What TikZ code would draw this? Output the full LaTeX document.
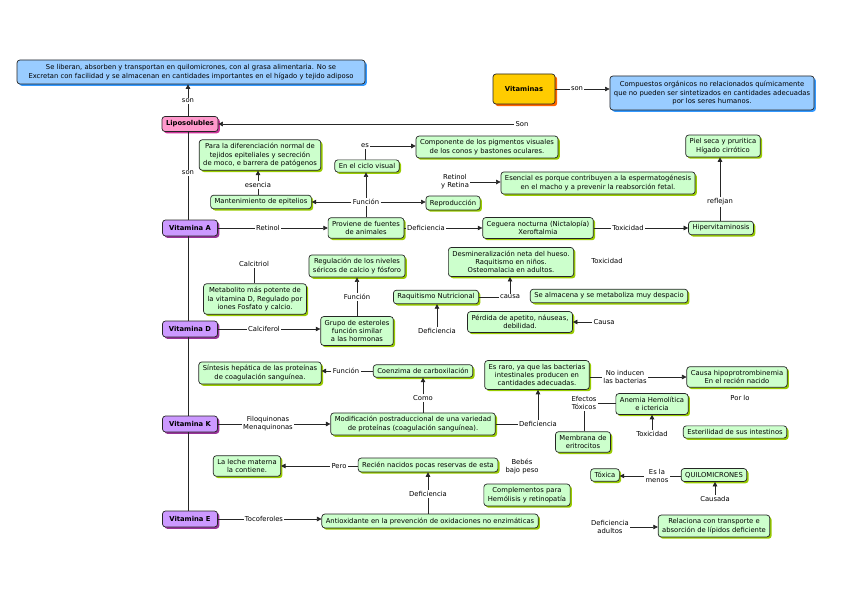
\documentclass[tikz,border=0pt]{standalone}
\usepackage{fontspec}
\setmainfont{DejaVu Sans}
\usetikzlibrary{shadows,arrows.meta}
\definecolor{cfill}{HTML}{CCFFCC}
\definecolor{cshad}{HTML}{99CC00}
\definecolor{pfill}{HTML}{CC99FF}
\definecolor{pshad}{HTML}{993399}
\definecolor{kfill}{HTML}{FF99CC}
\definecolor{kshad}{HTML}{CC3399}
\definecolor{bfill}{HTML}{99CCFF}
\definecolor{bshad}{HTML}{3399FF}
\definecolor{ofill}{HTML}{FFCC00}
\definecolor{oshad}{HTML}{FF6600}
\begin{document}
\begin{tikzpicture}[x=1pt,y=-1pt,
 box/.style={rounded corners=3pt, draw=black!85, line width=0.7pt, align=center, inner xsep=4pt, inner ysep=3.5pt, font=\fontsize{6.8}{8.3}\selectfont},
 concept/.style={box, fill=cfill, drop shadow={shadow xshift=1.8pt, shadow yshift=-1.8pt, fill=cshad, opacity=1}},
 vit/.style={box, fill=pfill, font=\fontsize{6.8}{8}\selectfont\bfseries, minimum width=55pt, minimum height=16pt, inner ysep=2pt, drop shadow={shadow xshift=1.8pt, shadow yshift=-1.8pt, fill=pshad, opacity=1}},
 lipo/.style={box, fill=kfill, font=\fontsize{6.8}{8}\selectfont\bfseries, minimum width=56pt, minimum height=15pt, inner ysep=2pt, drop shadow={shadow xshift=1.8pt, shadow yshift=-1.8pt, fill=kshad, opacity=1}},
 blue/.style={box, fill=bfill, drop shadow={shadow xshift=1.8pt, shadow yshift=-1.8pt, fill=bshad, opacity=1}},
 orange/.style={box, fill=ofill, font=\fontsize{6.8}{8}\selectfont\bfseries, minimum width=62pt, minimum height=30pt, drop shadow={shadow xshift=2.2pt, shadow yshift=-2.2pt, fill=oshad, opacity=1}},
 lbl/.style={font=\fontsize{6.8}{8}\selectfont, align=center, inner sep=1.2pt},
 link/.style={line width=0.6pt, draw=black!85},
 arr/.style={link, -{Triangle[length=4.5pt,width=4.5pt]}},
]
\useasboundingbox (0,0) rectangle (848,599);
\fill[white] (0,0) rectangle (848,599);

% top
\node[blue, minimum width=348pt, minimum height=24pt, inner ysep=2pt] (tb) at (191,72) {Se liberan, absorben y transportan en quilomicrones, con al grasa alimentaria. No se\\Excretan con facilidad y se almacenan en cantidades importantes en el hígado y tejido adiposo};
\node[orange] (vit) at (524,89) {Vitaminas};
\node[blue, minimum width=196pt, minimum height=34pt, inner ysep=2pt] (def) at (712,93) {Compuestos orgánicos no relacionados químicamente\\que no pueden ser sintetizados en cantidades adecuadas\\por los seres humanos.};
\node[lbl] (lson1) at (577,89) {son};
\node[lipo] (lipo) at (190,124) {Liposolubles};
\node[lbl] (lson2) at (188,101) {son};
\node[lbl] (lSon) at (522,124) {Son};
\node[lbl] (lson3) at (188,173) {son};

% Vitamina A
\node[vit] (vA) at (190,228) {Vitamina A};
\node[concept] (dif) at (260,155) {Para la diferenciación normal de\\tejidos epiteliales y secreción\\de moco, e barrera de patógenos};
\node[lbl] (lesen) at (258,185) {esencia};
\node[concept] (mant) at (261,202) {Mantenimiento de epitelios};
\node[lbl] (lret) at (268,228) {Retinol};
\node[concept] (prov) at (366,228) {Proviene de fuentes\\de animales};
\node[lbl] (lfunA) at (366,202) {Función};
\node[concept] (ciclo) at (367,166) {En el ciclo visual};
\node[lbl] (les) at (365,146) {es};
\node[concept] (comp) at (487,147) {Componente de los pigmentos visuales\\de los conos y bastones oculares.};
\node[concept] (repro) at (453,203) {Reproducción};
\node[lbl] (lrr) at (455,182) {Retinol\\y Retina};
\node[concept] (esen) at (598,183) {Esencial es porque contribuyen a la espermatogénesis\\en el macho y a prevenir la reabsorción fetal.};
\node[lbl] (ldefA) at (426,228) {Deficiencia};
\node[concept] (ceg) at (538,228) {Ceguera nocturna (Nictalopía)\\Xeroftalmia};
\node[lbl] (ltoxA) at (628,228) {Toxicidad};
\node[concept] (hiper) at (721,228) {Hipervitaminosis};
\node[lbl] (lrefl) at (720,202) {reflejan};
\node[concept] (piel) at (723,146) {Piel seca y pruritica\\Hígado cirrótico};

% Vitamina D
\node[vit] (vD) at (190,329) {Vitamina D};
\node[lbl] (lcalc) at (254,264) {Calcitriol};
\node[concept] (meta) at (255,299) {Metabolito más potente de\\la vitamina D, Regulado por\\iones Fosfato y calcio.};
\node[lbl] (lcalf) at (264,329) {Calciferol};
\node[concept] (grupo) at (357,331) {Grupo de esteroles\\función similar\\a las hormonas};
\node[lbl] (lfunD) at (357,297) {Función};
\node[concept] (regu) at (357,266) {Regulación de los niveles\\séricos de calcio y fósforo};
\node[concept] (raq) at (436,297) {Raquitismo Nutricional};
\node[lbl] (ldefD) at (437,331) {Deficiencia};
\node[lbl] (lcausa) at (510,297) {causa};
\node[concept] (desm) at (511,262) {Desmineralización neta del hueso.\\Raquitismo en niños.\\Osteomalacia en adultos.};
\node[concept] (alm) at (609,296) {Se almacena y se metaboliza muy despacio};
\node[lbl] (ltoxD) at (607,261) {Toxicidad};
\node[concept] (perd) at (520,322) {Pérdida de apetito, náuseas,\\debilidad.};
\node[lbl] (lCausa) at (604,322) {Causa};

% Vitamina K
\node[vit] (vK) at (190,424) {Vitamina K};
\node[lbl] (lfilo) at (268,424) {Filoquinonas\\Menaquinonas};
\node[concept] (modi) at (413,424) {Modificación postraduccional de una variedad\\de proteínas (coagulación sanguínea).};
\node[lbl] (lcomo) at (423,398) {Como};
\node[concept] (coen) at (423,371) {Coenzima de carboxilación};
\node[lbl] (lfunK) at (346,371) {Función};
\node[concept] (sint) at (260,373) {Síntesis hepática de las proteínas\\de coagulación sanguínea.};
\node[lbl] (ldefK) at (538,424) {Deficiencia};
\node[concept] (raro) at (537,375) {Es raro, ya que las bacterias\\intestinales producen en\\cantidades adecuadas.};
\node[lbl] (lnoind) at (625,377) {No inducen\\las bacterias};
\node[concept] (hipo) at (737,377) {Causa hipoprotrombinemia\\En el recién nacido};
\node[lbl] (lporlo) at (740,398) {Por lo};
\node[concept] (este) at (735,432) {Esterilidad de sus intestinos};
\node[lbl] (lefec) at (584,403) {Efectos\\Tóxicos};
\node[concept] (anem) at (652,404) {Anemia Hemolítica\\e ictericia};
\node[concept] (memb) at (583,442) {Membrana de\\eritrocitos};
\node[lbl] (ltoxK) at (652,434) {Toxicidad};

% Vitamina E
\node[vit] (vE) at (190,519) {Vitamina E};
\node[lbl] (ltoco) at (264,519) {Tocoferoles};
\node[concept] (anti) at (430,521) {Antioxidante en la prevención de oxidaciones no enzimáticas};
\node[lbl] (ldefE) at (428,494) {Deficiencia};
\node[concept] (recien) at (428,465) {Recién nacidos pocas reservas de esta};
\node[lbl] (lpero) at (339,466) {Pero};
\node[concept] (leche) at (247,466) {La leche materna\\la contiene.};
\node[lbl] (lbebes) at (522,466) {Bebés\\bajo peso};
\node[concept] (compl) at (527,495) {Complementos para\\Hemólisis y retinopatía};
\node[concept] (toxica) at (605,475) {Tóxica};
\node[lbl] (lmenos) at (657,476) {Es la\\menos};
\node[concept] (quilo) at (714,475) {QUILOMICRONES};
\node[lbl] (lcaus) at (715,499) {Causada};
\node[lbl] (ldefad) at (610,527) {Deficiencia\\adultos};
\node[concept] (rel) at (714,526) {Relaciona con transporte e\\absorción de lípidos deficiente};

% connectors top
\draw[link] (lipo.north -| lson2) -- (lson2.south);
\draw[arr] (lson2.north) -- (tb.south -| lson2);
\draw[link] (vit.east |- lson1.west) -- (lson1.west);
\draw[arr] (lson1.east) -- (def.west |- lson1.east);
\draw[arr] (lSon.west) -- (lipo.east);
% spine
\draw[link] (lipo.south -| lson3) -- (lson3.north);
\draw[link] (lson3.south) -- (vA.north -| lson3);
\draw[link] (vA.south -| lson3) -- (vD.north -| lson3);
\draw[link] (vD.south -| lson3) -- (vK.north -| lson3);
\draw[link] (vK.south -| lson3) -- (vE.north -| lson3);
% A
\draw[link] (vA.east) -- (lret.west);
\draw[arr] (lret.east) -- (prov.west);
\draw[link] (prov.north -| lfunA) -- (lfunA.south);
\draw[arr] (lfunA.north) -- (ciclo.south -| lfunA.north);
\draw[arr] (lfunA.east) -- (repro.west |- lfunA.east);
\draw[arr] (lfunA.west) -- (mant.east |- lfunA.west);
\draw[link] (mant.north -| lesen) -- (lesen.south);
\draw[arr] (lesen.north) -- (dif.south -| lesen);
\draw[link] (ciclo.north -| les) -- (les.south);
\draw[arr] (les.east) -- (comp.west |- les.east);
\draw[arr] (lrr.east) -- (esen.west |- lrr.east);
\draw[link] (prov.east) -- (ldefA.west);
\draw[arr] (ldefA.east) -- (ceg.west);
\draw[link] (ceg.east) -- (ltoxA.west);
\draw[arr] (ltoxA.east) -- (hiper.west);
\draw[link] (hiper.north -| lrefl) -- (lrefl.south);
\draw[arr] (lrefl.north) -- (piel.south -| lrefl);
% D
\draw[link] (vD.east) -- (lcalf.west);
\draw[arr] (lcalf.east) -- (grupo.west |- lcalf.east);
\draw[link] (grupo.north) -- (lfunD.south);
\draw[arr] (lfunD.north) -- (regu.south);
\draw[link] (lcalc.south) -- (meta.north -| lcalc);
\draw[arr] (ldefD.north) -- (raq.south -| ldefD);
\draw[link] (raq.east) -- (lcausa.west);
\draw[arr] (lcausa.north) -- (desm.south -| lcausa.north);
\draw[arr] (lCausa.west) -- (perd.east);
% K
\draw[link] (vK.east) -- (lfilo.west);
\draw[arr] (lfilo.east) -- (modi.west);
\draw[link] (modi.north -| lcomo.south) -- (lcomo.south);
\draw[arr] (lcomo.north) -- (coen.south -| lcomo.north);
\draw[link] (coen.west) -- (lfunK.east);
\draw[arr] (lfunK.west) -- (sint.east |- lfunK.west);
\draw[link] (modi.east) -- (ldefK.west);
\draw[arr] (ldefK.north) -- (raro.south -| ldefK.north);
\draw[link] (raro.east |- lnoind.west) -- (lnoind.west);
\draw[arr] (lnoind.east) -- (hipo.west |- lnoind.east);
\draw[link] (memb.north -| lefec) -- (lefec.south);
\draw[link] (lefec.east) -- (anem.west |- lefec.east);
\draw[arr] (ltoxK.north) -- (anem.south);
% E
\draw[link] (vE.east) -- (ltoco.west);
\draw[arr] (ltoco.east) -- (anti.west |- ltoco.east);
\draw[link] (anti.north -| ldefE.south) -- (ldefE.south);
\draw[arr] (ldefE.north) -- (recien.south -| ldefE.north);
\draw[link] (recien.west |- lpero.east) -- (lpero.east);
\draw[arr] (lpero.west) -- (leche.east |- lpero.west);
\draw[link] (quilo.west |- lmenos.east) -- (lmenos.east);
\draw[arr] (lmenos.west) -- (toxica.east |- lmenos.west);
\draw[arr] (lcaus.north) -- (quilo.south -| lcaus);
\draw[arr] (ldefad.east) -- (rel.west |- ldefad.east);
\end{tikzpicture}
\end{document}
